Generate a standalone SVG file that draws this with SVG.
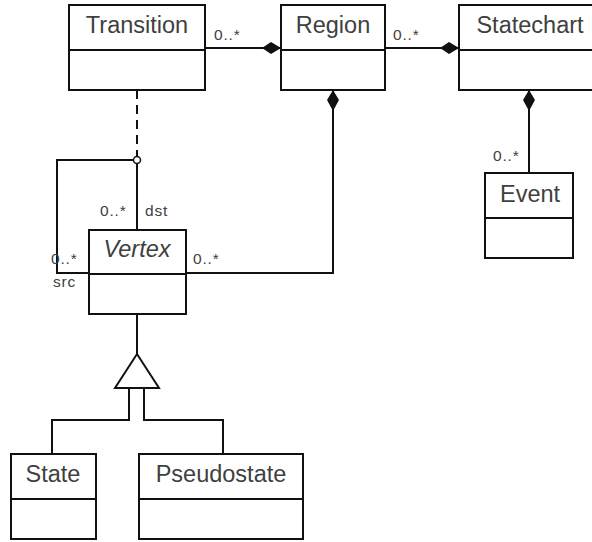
<svg xmlns="http://www.w3.org/2000/svg" width="592" height="542" viewBox="0 0 592 542">
  <style>
    .box { fill: #ffffff; stroke: #111111; stroke-width: 2; }
    .sep { stroke: #111111; stroke-width: 2; }
    .title { font-family: "Liberation Sans", Arial, sans-serif; font-size: 23.5px; fill: #404040; text-anchor: middle; }
    .italic { font-style: italic; }
    .lbl { font-family: "Liberation Sans", Arial, sans-serif; font-size: 15.5px; fill: #404040; letter-spacing: 0.8px; }
    .line { fill: none; stroke: #111111; stroke-width: 2; }
    .dash { fill: none; stroke: #111111; stroke-width: 2; stroke-dasharray: 9 6; }
    .diamond { fill: #111111; stroke: none; }
    .tri { fill: #ffffff; stroke: #111111; stroke-width: 2; }
  </style>

  <!-- Connectors -->
  <g id="connectors">
    <!-- Transition -> Region composition -->
    <line class="line" x1="205" y1="48" x2="281" y2="48"/>
    <polygon class="diamond" points="262,48 271,42 281,48 271,54"/>
    <!-- Region -> Statechart composition -->
    <line class="line" x1="385" y1="48" x2="459" y2="48"/>
    <polygon class="diamond" points="440,48 449,42 459,48 449,54"/>
    <!-- Region -> Vertex composition -->
    <polyline class="line" points="333,90 333,273 186,273"/>
    <polygon class="diamond" points="333,90 339,100 333,111 327,100"/>
    <!-- Statechart -> Event composition -->
    <line class="line" x1="529" y1="90" x2="529" y2="173"/>
    <polygon class="diamond" points="529,90 535,100 529,111 523,100"/>
    <!-- Transition association class link -->
    <line class="dash" x1="137" y1="90" x2="137" y2="156"/>
    <!-- Vertex self association (src / dst) -->
    <polyline class="line" points="133,160 57,160 57,273 89,273"/>
    <line class="line" x1="137" y1="164" x2="137" y2="230"/>
    <circle cx="137" cy="160" r="3.5" fill="#ffffff" stroke="#111111" stroke-width="1.5"/>
    <!-- Generalization: State, Pseudostate -> Vertex -->
    <line class="line" x1="137" y1="314" x2="137" y2="354"/>
    <polygon class="tri" points="137,354 159,388 115,388"/>
    <polyline class="line" points="129,388 129,420 52,420 52,454"/>
    <polyline class="line" points="144,388 144,420 223,420 223,454"/>
    <!-- multiplicities and roles -->
    <text class="lbl" x="214" y="40">0..*</text>
    <text class="lbl" x="393" y="40">0..*</text>
    <text class="lbl" x="493" y="161">0..*</text>
    <text class="lbl" x="100" y="216">0..*</text>
    <text class="lbl" x="145" y="216">dst</text>
    <text class="lbl" x="51" y="264">0..*</text>
    <text class="lbl" x="53" y="287">src</text>
    <text class="lbl" x="193" y="264">0..*</text>
  </g>

  <g id="transition">
    <rect class="box" x="69" y="5" width="136" height="85"/>
    <line class="sep" x1="69" y1="50" x2="205" y2="50"/>
    <text class="title" x="137" y="33">Transition</text>
  </g>

  <g id="region">
    <rect class="box" x="281" y="5" width="104" height="85"/>
    <line class="sep" x1="281" y1="50" x2="385" y2="50"/>
    <text class="title" x="333" y="33">Region</text>
  </g>

  <g id="statechart">
    <rect class="box" x="459" y="5" width="145" height="85"/>
    <line class="sep" x1="459" y1="50" x2="604" y2="50"/>
    <text class="title" x="530" y="33">Statechart</text>
  </g>

  <g id="event">
    <rect class="box" x="485" y="173" width="88" height="85"/>
    <line class="sep" x1="485" y1="218" x2="573" y2="218"/>
    <text class="title" x="530" y="202">Event</text>
  </g>

  <g id="vertex">
    <rect class="box" x="89" y="230" width="97" height="84"/>
    <line class="sep" x1="89" y1="274" x2="186" y2="274"/>
    <text class="title italic" x="137" y="257">Vertex</text>
  </g>

  <g id="state">
    <rect class="box" x="11" y="454" width="85" height="85"/>
    <line class="sep" x1="11" y1="499" x2="96" y2="499"/>
    <text class="title" x="53" y="482">State</text>
  </g>

  <g id="pseudostate">
    <rect class="box" x="139" y="454" width="164" height="85"/>
    <line class="sep" x1="139" y1="499" x2="303" y2="499"/>
    <text class="title" x="221" y="482">Pseudostate</text>
  </g>
</svg>
